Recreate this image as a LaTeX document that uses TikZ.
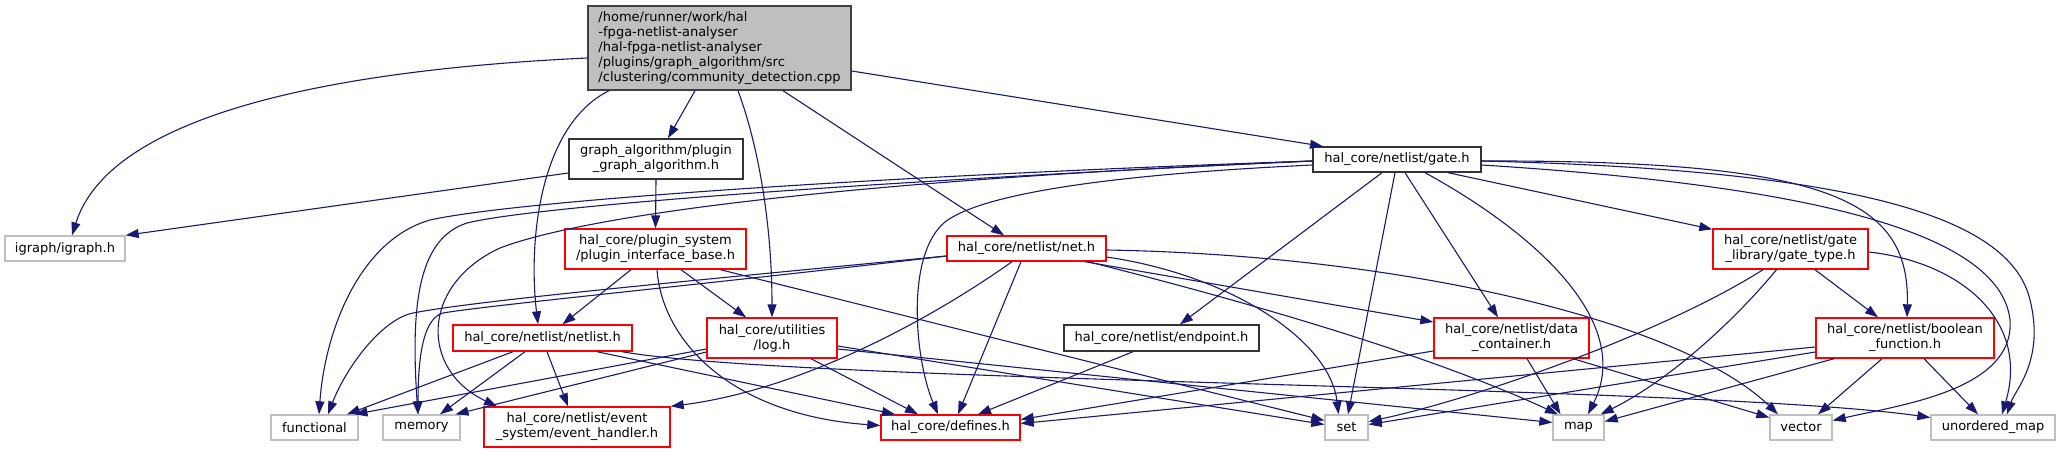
\documentclass[tikz,border=0pt]{standalone}
\usepackage{fontspec}
\setmainfont{DejaVu Sans}
\usetikzlibrary{arrows.meta,positioning,calc}
\definecolor{edgecolor}{RGB}{25,25,112}
\definecolor{libgray}{RGB}{191,191,191}
\definecolor{rootgray}{RGB}{191,191,191}
\definecolor{hdrred}{RGB}{255,0,0}

\begin{document}
\begin{tikzpicture}[x=1pt, y=-1pt, >={Triangle[length=13pt,width=9pt]},
    every node/.style={font=\fontsize{13}{15}\selectfont, inner sep=0pt, align=center},
    dims/.style 2 args={minimum width=#1pt, minimum height=#2pt},
    rootbox/.style={draw=black!75, fill=rootgray, line width=1.4pt},
    filebox/.style={draw=black!80, fill=white, line width=1.4pt},
    redbox/.style={draw=hdrred, fill=white, line width=1.4pt},
    libbox/.style={draw=libgray, fill=white, line width=1.4pt},
    incl/.style={->, draw=edgecolor, line width=1.1pt}]
    \useasboundingbox (0,0) rectangle (2061,453);
    % files
    \node[rootbox, dims={263}{84}, align=left] (root) at (719.5,48) {/home/runner/work/hal\\-fpga-netlist-analyser\\/hal-fpga-netlist-analyser\\/plugins/graph\_algorithm/src\\/clustering/community\_detection.cpp};
    \node[filebox, dims={174}{40}] (plugin) at (656,159) {graph\_algorithm/plugin\\\_graph\_algorithm.h};
    \node[filebox, dims={168}{25}] (gate) at (1397,159.5) {hal\_core/netlist/gate.h};
    \node[libbox, dims={120}{25}] (igraph) at (65,248.5) {igraph/igraph.h};
    \node[redbox, dims={181}{40}] (pib) at (655.5,249) {hal\_core/plugin\_system\\/plugin\_interface\_base.h};
    \node[redbox, dims={159}{25}] (net) at (1026.5,248.5) {hal\_core/netlist/net.h};
    \node[redbox, dims={155}{40}] (gatetype) at (1790.5,249) {hal\_core/netlist/gate\\\_library/gate\_type.h};
    \node[redbox, dims={179}{26}] (netlist) at (542.5,338) {hal\_core/netlist/netlist.h};
    \node[redbox, dims={130}{40}] (log) at (772,338) {hal\_core/utilities\\/log.h};
    \node[filebox, dims={195}{26}] (endpoint) at (1161.5,338) {hal\_core/netlist/endpoint.h};
    \node[redbox, dims={155}{40}] (datacont) at (1511.5,338) {hal\_core/netlist/data\\\_container.h};
    \node[redbox, dims={178}{40}] (boolfunc) at (1905,338) {hal\_core/netlist/boolean\\\_function.h};
    % bottom row
    \node[libbox, dims={87}{25}] (functional) at (314.5,427.5) {functional};
    \node[libbox, dims={77}{25}] (memory) at (421.5,427.5) {memory};
    \node[redbox, dims={186}{40}] (evhandler) at (577,427) {hal\_core/netlist/event\\\_system/event\_handler.h};
    \node[redbox, dims={139}{25}] (defines) at (950.5,427.5) {hal\_core/defines.h};
    \node[libbox, dims={43}{25}] (set) at (1346.5,427.5) {set};
    \node[libbox, dims={51}{25}] (map) at (1578.5,427.5) {map};
    \node[libbox, dims={62}{25}] (vector) at (1801,427.5) {vector};
    \node[libbox, dims={124}{25}] (umap) at (1993,427.5) {unordered\_map};
    % includes of the source file
    \draw[incl] ([yshift=-10]root.west) .. controls (330,70) and (110,115) .. ([xshift=7]igraph.north);
    \draw[incl] ([xshift=-24.5]root.south) -- ([xshift=12]plugin.north);
    \draw[incl] ([xshift=-110.5]root.south) .. controls (540,125) and (528,240) .. ([xshift=-4.5]netlist.north);
    \draw[incl] ([xshift=18.5]root.south) .. controls (760,150) and (772,230) .. (log.north);
    \draw[incl] ([xshift=63.5]root.south) -- ([xshift=-22.5]net.north);
    \draw[incl] ([yshift=-23]root.east) -- ([xshift=-74]gate.north);
    % plugin_graph_algorithm.h
    \draw[incl] ([yshift=-14]plugin.west) -- (igraph.north east);
    \draw[incl] (plugin.south) -- (pib.north);
    % plugin_interface_base.h
    \draw[incl] ([xshift=-24.5]pib.south) -- ([xshift=20]netlist.north);
    \draw[incl] ([xshift=25.5]pib.south) -- ([xshift=-26]log.north);
    \draw[incl] ([xshift=1.5]pib.south) .. controls (662,340) and (730,415) .. ([yshift=2]defines.west);
    \draw[incl] ([xshift=65]pib.south) -- ([yshift=7]set.west);
    % netlist.h
    \draw[incl] ([xshift=-29.5]netlist.south) -- ([xshift=32.5]functional.north);
    \draw[incl] ([xshift=-17.5]netlist.south) -- ([xshift=18.5]memory.north);
    \draw[incl] ([xshift=4.5]netlist.south) -- ([xshift=-9]evhandler.north);
    \draw[incl] ([xshift=54.5]netlist.south) -- ([xshift=-55.5]defines.north);
    \draw[incl] ([xshift=79.5]netlist.south) .. controls (800,383) and (1700,385) .. ([yshift=10]umap.west);
    % log.h
    \draw[incl] ([yshift=-11]log.west) -- ([xshift=40]functional.north);
    \draw[incl] ([yshift=-14]log.west) -- ([xshift=34]memory.north);
    \draw[incl] ([xshift=39]log.south) -- ([xshift=-32.5]defines.north);
    \draw[incl] ([yshift=-8]log.east) -- ([yshift=3]set.west);
    \draw[incl] ([yshift=-11]log.east) -- ([yshift=5]map.west);
    % net.h
    \draw[incl] ([yshift=-7.5]net.west) .. controls (700,280) and (480,300) .. (413,313) .. controls (380,320) and (345,370) .. ([xshift=13.5]functional.north);
    \draw[incl] ([yshift=-7.5]net.west) .. controls (700,285) and (490,305) .. (443,313) .. controls (425,318) and (418,350) .. ([xshift=-3.5]memory.north);
    \draw[incl] ([xshift=-14.5]net.south) .. controls (930,320) and (800,390) .. (evhandler.north east);
    \draw[incl] ([xshift=-5.5]net.south) -- ([xshift=7.5]defines.north);
    \draw[incl] ([yshift=-8.5]net.east) .. controls (1230,275) and (1330,340) .. ([xshift=-8]set.north);
    \draw[incl] ([xshift=61.5]net.south) .. controls (1232,298) and (1424,352) .. ([xshift=-20.5]map.north);
    \draw[incl] ([xshift=58.5]net.south) -- ([yshift=16]datacont.west);
    \draw[incl] ([yshift=-1.5]net.east) .. controls (1400,255) and (1680,320) .. ([xshift=-23]vector.north);
    % gate.h
    \draw[incl] ([yshift=-1.5]gate.west) .. controls (900,175) and (520,200) .. (430,220) .. controls (360,240) and (325,330) .. ([xshift=4.5]functional.north);
    \draw[incl] ([yshift=-1.5]gate.west) .. controls (900,180) and (540,205) .. (467,223) .. controls (420,238) and (410,300) .. ([xshift=-3.5]memory.north);
    \draw[incl] ([yshift=-1.5]gate.west) .. controls (900,178) and (600,210) .. (500,248) .. controls (420,285) and (420,370) .. ([xshift=-80]evhandler.north);
    \draw[incl] ([yshift=-5.5]gate.west) .. controls (1100,175) and (980,195) .. (945,222) .. controls (905,255) and (915,360) .. ([xshift=-12.5]defines.north);
    \draw[incl] ([xshift=-15]gate.south) -- ([xshift=18.5]endpoint.north);
    \draw[incl] ([xshift=-2]gate.south) -- ([xshift=1.5]set.north);
    \draw[incl] ([xshift=8]gate.south) -- ([xshift=-13.5]datacont.north);
    \draw[incl] ([xshift=28]gate.south) .. controls (1530,230) and (1635,320) .. ([xshift=9.5]map.north);
    \draw[incl] ([xshift=51]gate.south) -- ([yshift=-1]gatetype.north west);
    \draw[incl] ([yshift=-1.5]gate.east) .. controls (1830,160) and (1910,200) .. ([xshift=2]boolfunc.north);
    \draw[incl] ([yshift=-5.5]gate.east) .. controls (1800,185) and (2000,230) .. (2010,320) .. controls (2015,390) and (1900,405) .. ([yshift=7]vector.east);
    \draw[incl] ([yshift=-1.5]gate.east) .. controls (1850,170) and (2010,215) .. (2030,300) .. controls (2045,360) and (2015,390) .. ([xshift=14]umap.north);
    % gate_type.h
    \draw[incl] ([xshift=24.5]gatetype.south) -- ([xshift=-27]boolfunc.north);
    \draw[incl] ([xshift=-27.5]gatetype.south) .. controls (1660,335) and (1470,400) .. ([yshift=6]set.east);
    \draw[incl] ([xshift=-14]gatetype.south) .. controls (1735,320) and (1670,380) .. ([xshift=-4]map.north east);
    \draw[incl] ([yshift=-3]gatetype.east) .. controls (1960,262) and (2030,320) .. ([xshift=9]umap.north);
    % endpoint.h, data_container.h, boolean_function.h
    \draw[incl] ([xshift=-28.5]endpoint.south) -- ([xshift=27.5]defines.north);
    \draw[incl] ([yshift=-13]datacont.west) -- ([yshift=8]defines.east);
    \draw[incl] ([xshift=15.5]datacont.south) -- ([xshift=-18]map.north);
    \draw[incl] ([xshift=61.5]datacont.south) -- ([yshift=10]vector.west);
    \draw[incl] ([yshift=-9]boolfunc.west) -- ([yshift=4]defines.east);
    \draw[incl] ([yshift=-14]boolfunc.west) -- ([yshift=3]set.east);
    \draw[incl] ([xshift=-71]boolfunc.south) -- ([yshift=6]map.east);
    \draw[incl] ([xshift=-23]boolfunc.south) -- ([xshift=17]vector.north);
    \draw[incl] ([xshift=19]boolfunc.south) -- ([xshift=-15]umap.north);
\end{tikzpicture}
\end{document}
